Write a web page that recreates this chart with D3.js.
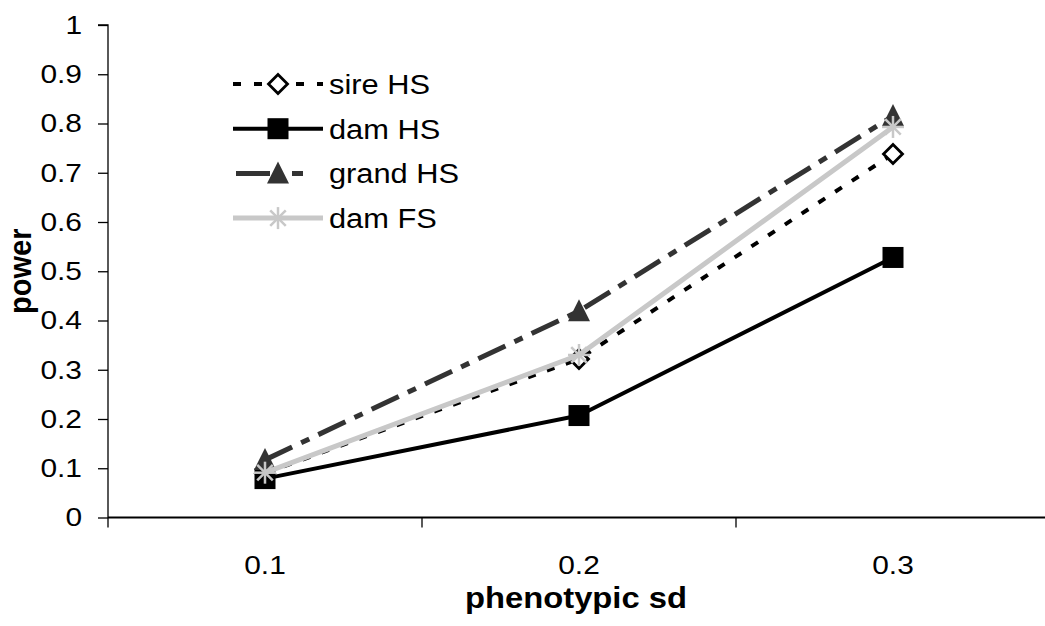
<!DOCTYPE html>
<html><head><meta charset="utf-8">
<script src="https://cdn.jsdelivr.net/npm/d3@7"></script>
<style>body{margin:0;background:#fff}svg{display:block}text{font-family:"Liberation Sans",Arial,sans-serif}</style>
</head><body>
<svg id="c" width="1045" height="626"></svg>
<script>
const categories = ["0.1", "0.2", "0.3"];
const yTicks = [0, 0.1, 0.2, 0.3, 0.4, 0.5, 0.6, 0.7, 0.8, 0.9, 1];
const seriesNames = ["sire HS", "dam HS", "grand HS", "dam FS"];
const sireHS = [0.09, 0.322, 0.738];
const damHS = [0.079, 0.207, 0.528];
const grandHS = [0.117, 0.419, 0.815];
const damFS = [0.091, 0.33, 0.793];

const seriesValues = [sireHS, damHS, grandHS, damFS];
const styles = [
  {color:"#000", width:4, dash:"8,12", marker:"diamond"},
  {color:"#000", width:4, dash:null, marker:"square"},
  {color:"#333", width:5, dash:"30,10,9,10", marker:"triangle"},
  {color:"#c8c8c8", width:5, dash:null, marker:"star"}
];

const svg = d3.select("#c");
const pLeft = 108, pRight = 1050, pTop = 25, pBottom = 517.5;
const x = d3.scaleBand().domain(categories).range([pLeft, pRight]);
const y = d3.scaleLinear().domain([0, 1]).range([pBottom, pTop]);

function stretch(sel, sx) {
  sel.each(function() {
    const t = d3.select(this);
    const tx = +(t.attr("x") || 0);
    t.attr("transform", `translate(${tx},0) scale(${sx},1) translate(${-tx},0)`);
  });
}

// Y axis
const yAxis = svg.append("g").attr("transform", `translate(${pLeft},0)`)
  .call(d3.axisLeft(y).tickValues(yTicks).tickSize(10).tickPadding(16).tickFormat(d => d === 0 || d === 1 ? String(d) : d3.format(".1f")(d)));
yAxis.attr("font-family", null).attr("font-size", null);
yAxis.select(".domain").attr("stroke", "#000").attr("stroke-width", 1.3).attr("d", `M-10,${pTop}H0V${pBottom+10}`);
yAxis.selectAll(".tick line").attr("stroke", "#000").attr("stroke-width", 1.3);
yAxis.selectAll("text").attr("font-size", 26).attr("fill", "#000").call(stretch, 1.15);

// X axis
const xAxis = svg.append("g").attr("transform", `translate(0,${pBottom})`)
  .call(d3.axisBottom(x).tickSize(0).tickPadding(38));
xAxis.attr("font-family", null).attr("font-size", null);
xAxis.select(".domain").attr("stroke", "#000").attr("stroke-width", 2).attr("d", `M${pLeft},0H1045`);
xAxis.selectAll("text").attr("font-size", 26).attr("fill", "#000").call(stretch, 1.15);
// category boundary ticks
svg.append("g").selectAll("line").data(categories.slice(1)).join("line")
  .attr("x1", d => x(d)).attr("x2", d => x(d))
  .attr("y1", pBottom).attr("y2", pBottom + 10)
  .attr("stroke", "#000").attr("stroke-width", 1.3);

// axis titles
svg.append("text").attr("x", (pLeft + pRight) / 2 - 3).attr("y", 608)
  .attr("text-anchor", "middle").attr("font-size", 29).attr("font-weight", "bold").text("phenotypic sd")
  .call(stretch, 1.13);
svg.append("text").attr("transform", `translate(31,${(pTop + pBottom) / 2}) scale(1.1,1) rotate(-90)`)
  .attr("text-anchor", "middle").attr("font-size", 29).attr("font-weight", "bold").text("power");

function drawMarker(g, type, cx, cy, color) {
  if (type === "square") {
    g.append("rect").attr("x", cx - 10.5).attr("y", cy - 10.5).attr("width", 21).attr("height", 21).attr("fill", color);
  } else if (type === "diamond") {
    const s = 9.5;
    g.append("path").attr("d", `M${cx},${cy - s}L${cx + s},${cy}L${cx},${cy + s}L${cx - s},${cy}Z`)
      .attr("fill", "#fff").attr("stroke", color).attr("stroke-width", 2.8);
  } else if (type === "triangle") {
    g.append("path").attr("d", `M${cx},${cy - 12}L${cx + 11},${cy + 10}L${cx - 11},${cy + 10}Z`).attr("fill", color);
  } else if (type === "star") {
    const r = 11;
    for (let i = 0; i < 4; i++) {
      const a = i * Math.PI / 4;
      g.append("line").attr("x1", cx - r * Math.cos(a)).attr("y1", cy - r * Math.sin(a))
        .attr("x2", cx + r * Math.cos(a)).attr("y2", cy + r * Math.sin(a))
        .attr("stroke", color).attr("stroke-width", 2.5);
    }
  }
}

const line = d3.line().x((d, i) => x(categories[i]) + x.bandwidth() / 2).y(d => y(d));
seriesValues.forEach((vals, si) => {
  const st = styles[si];
  const g = svg.append("g");
  g.append("path").attr("d", line(vals)).attr("fill", "none").attr("stroke", st.color)
    .attr("stroke-width", st.width).attr("stroke-dasharray", st.dash).attr("stroke-linejoin", "round");
  vals.forEach((v, i) => drawMarker(g, st.marker, x(categories[i]) + x.bandwidth() / 2, y(v), st.color));
});

// legend
const legY0 = 84, legDy = 44.7;
seriesNames.forEach((name, si) => {
  const st = styles[si];
  const g = svg.append("g");
  const ly = legY0 + si * legDy;
  g.append("line").attr("x1", si === 2 ? 236 : 233).attr("x2", si === 2 ? 303 : 323).attr("y1", ly).attr("y2", ly)
    .attr("stroke", st.color).attr("stroke-width", st.width).attr("stroke-dasharray", si === 0 ? "8,13" : si === 2 ? "34,22,11" : null);
  drawMarker(g, st.marker, 278, ly, st.color);
  g.append("text").attr("x", 329).attr("y", ly).attr("dy", "0.36em").attr("font-size", 28).text(name)
    .call(stretch, 1.1);
});
</script>
</body></html>
